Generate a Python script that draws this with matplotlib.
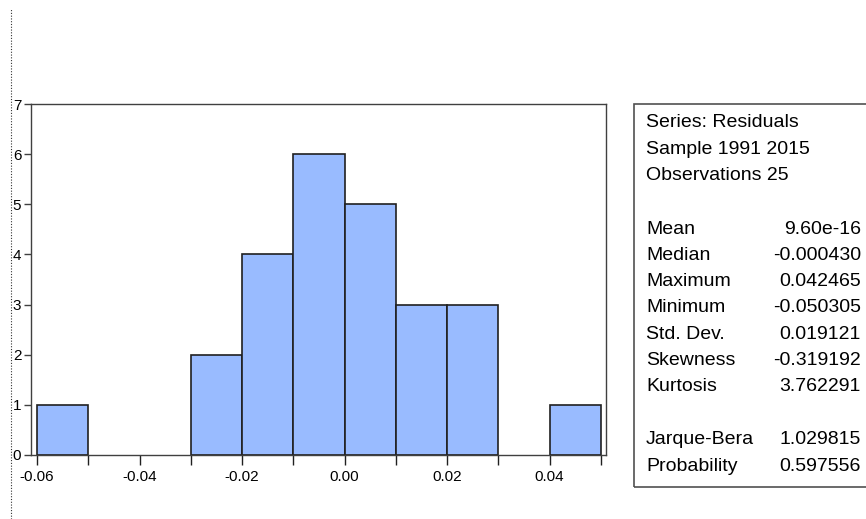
import numpy as np
import matplotlib.pyplot as plt
from matplotlib.patches import Rectangle
from matplotlib.lines import Line2D

plt.rcParams['font.family'] = ['Liberation Sans', 'DejaVu Sans']

# histogram of residuals: bin edges and counts
bin_edges = [-0.06, -0.05, -0.04, -0.03, -0.02, -0.01, 0.00, 0.01, 0.02, 0.03, 0.04, 0.05]
counts = [1, 0, 0, 2, 4, 6, 5, 3, 3, 0, 1]

xtick_labels = ['-0.06', '-0.04', '-0.02', '0.00', '0.02', '0.04']
xtick_values = [-0.06, -0.04, -0.02, 0.00, 0.02, 0.04]

# summary statistics box
header = ['Series: Residuals', 'Sample 1991 2015', 'Observations 25']
stat_names = ['Mean', 'Median', 'Maximum', 'Minimum', 'Std. Dev.', 'Skewness', 'Kurtosis']
stat_values = ['9.60e-16', '-0.000430', '0.042465', '-0.050305', '0.019121', '-0.319192', '3.762291']
test_names = ['Jarque-Bera', 'Probability']
test_values = ['1.029815', '0.597556']

W, H = 866, 519
fig = plt.figure(figsize=(W / 100, H / 100), dpi=100)

ax = fig.add_axes([31 / W, (H - 455) / H, 575 / W, 351 / H])
widths = np.diff(bin_edges)
lw = [1.2 if c > 0 else 0 for c in counts]
ax.bar(bin_edges[:-1], counts, width=widths, align='edge',
       color='#99BBFF', edgecolor='#202020', linewidth=lw)

ax.set_xlim(-0.0612, 0.051)
ax.set_ylim(0, 7)
ax.set_xticks(xtick_values)
ax.set_xticklabels(xtick_labels)
ax.set_xticks(bin_edges, minor=True)
ax.set_yticks(range(8))
ax.tick_params(axis='x', which='both', direction='out', length=7, width=1,
               color='#202020', labelsize=11, pad=4)
ax.tick_params(axis='y', direction='out', length=5, width=1, color='#404040',
               labelsize=11, pad=2)
for s in ax.spines.values():
    s.set_color('#404040')
    s.set_linewidth(1)

# dotted separator on the left
fig.add_artist(Line2D([11 / W, 11 / W], [0, 1 - 8 / H], color='#333333',
                      linestyle=(0, (1, 1.5)), linewidth=0.8))

# statistics box
fig.add_artist(Rectangle((634 / W, (H - 487) / H), 240 / W, 383 / H,
                         fill=False, edgecolor='#505050', linewidth=1.2,
                         transform=fig.transFigure))

x_lab = 646 / W
x_val = 861 / W
fs = 14
y = 123
for line in header:
    fig.text(x_lab, 1 - y / H, line, fontsize=fs, va='center', ha='left')
    y += 26.5
y = 229
for name, val in zip(stat_names, stat_values):
    fig.text(x_lab, 1 - y / H, name, fontsize=fs, va='center', ha='left')
    fig.text(x_val, 1 - y / H, val, fontsize=fs, va='center', ha='right')
    y += 26.3
y = 440
for name, val in zip(test_names, test_values):
    fig.text(x_lab, 1 - y / H, name, fontsize=fs, va='center', ha='left')
    fig.text(x_val, 1 - y / H, val, fontsize=fs, va='center', ha='right')
    y += 26.5

fig.savefig('out.png', dpi=100)
